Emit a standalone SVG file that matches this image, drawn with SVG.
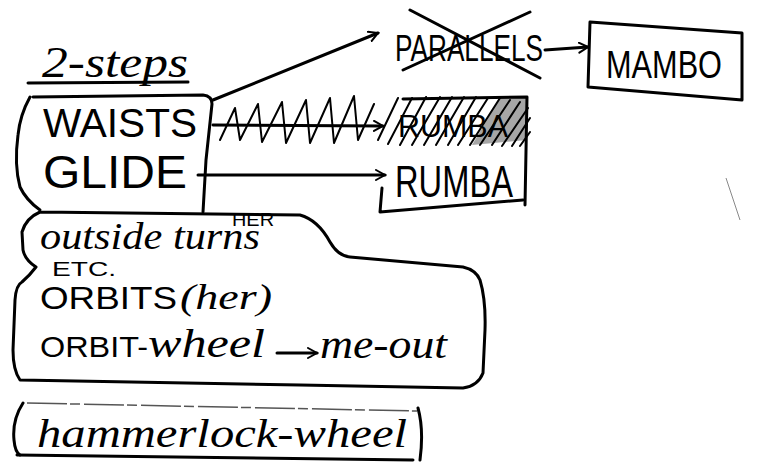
<svg xmlns="http://www.w3.org/2000/svg" width="757" height="475" viewBox="0 0 757 475">
<style>
.ink{fill:none;stroke:#000;stroke-width:3;stroke-linecap:round;stroke-linejoin:round}
.thin{fill:none;stroke:#000;stroke-width:2;stroke-linecap:round;stroke-linejoin:round}
.cap{font-family:"Liberation Sans",Arial,sans-serif;fill:#000}
.cur{font-family:"Liberation Serif","Times New Roman",serif;font-style:italic;fill:#000}
</style>
<defs>
<marker id="chev" viewBox="0 0 12 12" refX="10" refY="6" markerWidth="12" markerHeight="12" markerUnits="userSpaceOnUse" orient="auto">
<path d="M1,1 L10,6 L1,11" fill="none" stroke="#000" stroke-width="2" stroke-linecap="round"/>
</marker>
</defs>
<rect width="757" height="475" fill="#fff"/>

<g id="title">
<text class="cur" x="42" y="77" font-size="44" textLength="146" lengthAdjust="spacingAndGlyphs">2-steps</text>
<path class="ink" d="M28,83 L188,82"/>
</g>

<g id="twostep-box">
<path class="ink" d="M33,97 L203,95 Q212,96 212,104 L206,160 L203,212 M30,97 Q20,115 18,135 Q14,165 20,187 Q26,200 40,210"/>
<text class="cap" x="43" y="137" font-size="41" textLength="154" lengthAdjust="spacingAndGlyphs">WAISTS</text>
<text class="cap" x="43" y="188" font-size="46" textLength="144" lengthAdjust="spacingAndGlyphs">GLIDE</text>
</g>

<g id="parallels">
<text class="cap" x="395" y="61" font-size="36" textLength="148" lengthAdjust="spacingAndGlyphs">PARALLELS</text>
<path class="ink" d="M403,70 L530,12 M410,10 L540,78" stroke-width="4"/>
</g>

<g id="mambo">
<path class="ink" d="M590,22 L742,33 L742,100 L588,87 Z"/>
<text class="cap" x="606" y="78" font-size="38" textLength="116" lengthAdjust="spacingAndGlyphs">MAMBO</text>
</g>

<g id="rumba-crossed">
<path class="ink" d="M403,99 L527,97 L525,205"/>
<text class="cap" x="398" y="137" font-size="32" textLength="110" lengthAdjust="spacingAndGlyphs">RUMBA</text>
<path class="thin" d="M378,140 L398,98 M388,144 L412,98 M400,145 L426,97 M412,145 L440,97 M424,145 L452,97 M436,145 L464,97 M448,145 L476,97 M458,145 L488,98 M470,145 L500,98 M480,145 L510,100 M492,145 L520,102 M502,146 L528,108 M512,146 L530,118 M520,146 L530,132"/>
<path d="M472,145 L500,98 L527,98 L527,140 Z" fill="#000" opacity="0.35"/>
</g>

<g id="rumba">
<path class="ink" d="M382,188 L380,212 L523,200"/>
<text class="cap" x="395" y="197" font-size="44" textLength="118" lengthAdjust="spacingAndGlyphs">RUMBA</text>
</g>

<g id="outside-box">
<path class="ink" d="M40,212 L300,215 Q318,220 330,242 Q338,256 350,257 L463,267 Q476,270 480,280 Q486,300 485,330 L483,373 Q478,386 463,388 L300,385 L20,380 Q13,370 13,350 L15,300 Q16,285 22,282 Q30,275 36,267 Q25,260 23,250 L22,232 Q26,218 40,212"/>
<text class="cur" x="40" y="249" font-size="37" textLength="220" lengthAdjust="spacingAndGlyphs">outside turns</text>
<text class="cap" x="232" y="226" font-size="19" textLength="42" lengthAdjust="spacingAndGlyphs">HER</text>
<text class="cap" x="52" y="276" font-size="20" textLength="64" lengthAdjust="spacingAndGlyphs">ETC.</text>
<text class="cap" x="40" y="309" font-size="31" textLength="137" lengthAdjust="spacingAndGlyphs">ORBITS</text>
<text class="cur" x="180" y="309" font-size="36" textLength="92" lengthAdjust="spacingAndGlyphs">(her)</text>
<text class="cap" x="40" y="357" font-size="30" textLength="108" lengthAdjust="spacingAndGlyphs">ORBIT-</text>
<text class="cur" x="148" y="357" font-size="40" textLength="117" lengthAdjust="spacingAndGlyphs">wheel</text>
<text class="cur" x="320" y="358" font-size="40" textLength="127" lengthAdjust="spacingAndGlyphs">me-out</text>
</g>

<g id="hammerlock-box">
<path class="ink" d="M23,403 Q12,420 14,440 Q15,452 20,455 M418,408 Q424,430 420,460"/>
<path d="M27,403 L417,411" fill="none" stroke="#555" stroke-width="1.5" stroke-dasharray="40 3 10 4"/>
<path class="ink" d="M17,455 L413,460"/>
<text class="cur" x="37" y="447" font-size="40" textLength="370" lengthAdjust="spacingAndGlyphs">hammerlock-wheel</text>
</g>

<g id="connectors">
<path class="ink" d="M213,100 L378,33" marker-end="url(#chev)"/>
<path class="ink" d="M213,125 L383,126" marker-end="url(#chev)"/>
<path class="thin" d="M220,140 L235,108 L240,140 L258,104 L262,142 L282,102 L286,143 L306,100 L310,143 L330,98 L334,143 L354,96 L358,140 L374,104"/>
<path class="ink" d="M198,175 L385,175" marker-end="url(#chev)"/>
<path class="ink" d="M545,50 L588,47" marker-end="url(#chev)"/>
<path class="ink" d="M277,353 L317,353" marker-end="url(#chev)"/>
</g>

<path d="M726,178 L740,220" stroke="#888" stroke-width="1" fill="none"/>
</svg>
